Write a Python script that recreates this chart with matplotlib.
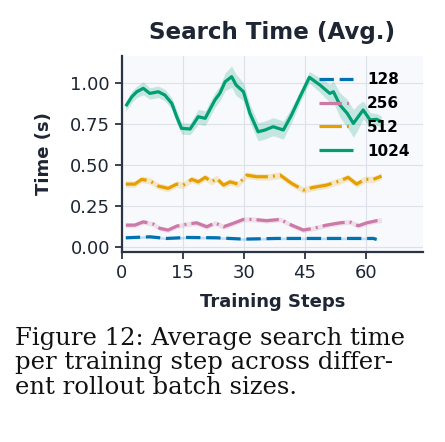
import matplotlib.pyplot as plt
import numpy as np

# series (training step, avg search time in s, band half-width)
steps_1024 = [1, 2.5, 3.7, 5.3, 6.9, 9, 10.6, 12.3, 13.5, 14.7, 16.8, 18.8, 20.5, 22.9, 24.1, 25.4, 27,
              28.1, 29.9, 31.5, 33.5, 35.2, 37.2, 39.7, 41.7, 43.8, 46.1, 48.7, 51.1, 52, 53.6, 55.4,
              56.9, 58.1, 59.3, 61, 62.6, 63.8]
time_1024 = [0.857, 0.915, 0.945, 0.966, 0.935, 0.945, 0.925, 0.874, 0.793, 0.722, 0.718, 0.793, 0.783,
             0.895, 0.935, 1.006, 1.037, 0.986, 0.945, 0.813, 0.701, 0.712, 0.732, 0.712, 0.803, 0.915,
             1.033, 0.986, 0.935, 0.945, 0.864, 0.813, 0.752, 0.793, 0.834, 0.773, 0.777, 0.762]
band_1024 = [0.03, 0.035, 0.035, 0.04, 0.035, 0.035, 0.035, 0.035, 0.04, 0.035, 0.035, 0.045, 0.045, 0.045,
             0.045, 0.055, 0.065, 0.065, 0.055, 0.055, 0.055, 0.055, 0.055, 0.055, 0.045, 0.035, 0.035,
             0.045, 0.055, 0.065, 0.075, 0.085, 0.085, 0.075, 0.055, 0.045, 0.035, 0.035]

steps_512 = [1, 3.2, 4.9, 6.9, 9, 11.4, 13.5, 15.1, 17.2, 18.8, 20.5, 22.1, 23.3, 25, 26.6, 28.6, 30.7,
             33.1, 36.4, 38.9, 41.7, 44.6, 47, 50.3, 53.6, 55.6, 57.7, 59.7, 61.8, 63.8]
time_512 = [0.382, 0.382, 0.411, 0.402, 0.370, 0.356, 0.382, 0.376, 0.411, 0.396, 0.423, 0.396, 0.417,
            0.376, 0.396, 0.382, 0.437, 0.427, 0.427, 0.437, 0.387, 0.346, 0.362, 0.376, 0.402, 0.423,
            0.382, 0.411, 0.411, 0.431]

steps_256 = [1, 3.2, 5.3, 7.8, 9.4, 11.4, 13.5, 16, 18.4, 20.9, 22.9, 25, 27.4, 29.9, 32.3, 35.6, 38.9,
             41.7, 44.6, 47, 50.3, 53.6, 56, 58.1, 60.2, 62.6, 63.8]
time_256 = [0.132, 0.132, 0.152, 0.138, 0.112, 0.102, 0.126, 0.138, 0.146, 0.122, 0.146, 0.122, 0.143,
            0.167, 0.167, 0.159, 0.167, 0.132, 0.102, 0.112, 0.132, 0.146, 0.152, 0.128, 0.146, 0.159,
            0.163]

steps_128 = [1, 6.9, 11, 16, 23.3, 29.9, 38, 46.1, 54.3, 61.8, 62.6]
time_128 = [0.055, 0.061, 0.051, 0.057, 0.055, 0.047, 0.051, 0.051, 0.051, 0.051, 0.045]

labels = ["128", "256", "512", "1024"]
colors = ["#0072B2", "#CC79A7", "#E69F00", "#009E73"]
styles = [(0, (4.5, 1.8)), (0, (7, 1.6, 0.6, 1.6)), (0, (7, 1.6, 0.6, 1.6)), "-"]
bands = [0.008, 0.015, 0.02, None]

TEXT = "#1e2533"
SPINE = "#2b3444"

plt.rcParams["font.family"] = "DejaVu Sans"

fig = plt.figure(figsize=(4.45, 4.42), dpi=100)
ax = fig.add_axes([0.2735, 0.4305, 0.6771, 0.4428])
ax.set_facecolor("#f7f9fc")

series = [(steps_128, time_128), (steps_256, time_256), (steps_512, time_512), (steps_1024, time_1024)]
for i, (x, y) in enumerate(series):
    x = np.array(x)
    y = np.array(y)
    if bands[i] is None:
        b = np.array(band_1024)
    else:
        b = np.full(len(y), bands[i])
    ax.fill_between(x, y - b, y + b, color=colors[i], alpha=0.2, lw=0)
    ax.plot(x, y, color=colors[i], ls=styles[i], lw=2.3, label=labels[i],
            solid_capstyle="butt", dash_capstyle="butt")

ax.set_xlim(0, 74)
ax.set_ylim(-0.03, 1.163)
ax.set_xticks([0, 15, 30, 45, 60])
ax.set_yticks([0, 0.25, 0.5, 0.75, 1.0])
ax.set_yticklabels(["0.00", "0.25", "0.50", "0.75", "1.00"])
ax.grid(color="#dde2ea", lw=0.8)
ax.set_axisbelow(True)

for side in ["top", "right"]:
    ax.spines[side].set_visible(False)
for side in ["left", "bottom"]:
    ax.spines[side].set_color(SPINE)
    ax.spines[side].set_linewidth(1.6)
ax.tick_params(colors=SPINE, labelcolor=TEXT, labelsize=13, length=5, width=1.3)

ax.set_title("Search Time (Avg.)", fontsize=16.6, fontweight="bold", color=TEXT, pad=12)
ax.set_xlabel("Training Steps", fontsize=13, fontweight="bold", color=TEXT, labelpad=8)
ax.set_ylabel("Time (s)", fontsize=13, fontweight="bold", color=TEXT, labelpad=12)

leg = ax.legend(loc="upper right", bbox_to_anchor=(0.985, 0.965), frameon=False,
                prop={"weight": "bold", "size": 11}, handlelength=2.2, handletextpad=0.9,
                labelspacing=0.58, borderaxespad=0.2)

caption = "Figure 12: Average search time\nper training step across differ-\nent rollout batch sizes."
fig.text(0.034, 0.26, caption, fontsize=17.5, family="DejaVu Serif", color="#111111",
         ha="left", va="top", linespacing=1.07)

fig.savefig("out.png", dpi=100)
